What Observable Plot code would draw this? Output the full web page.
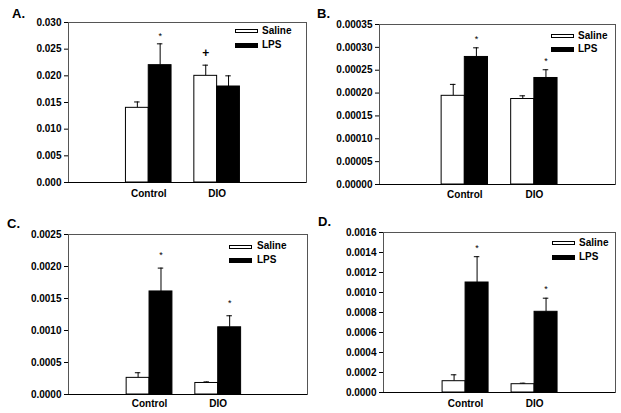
<!DOCTYPE html>
<html>
<head>
<meta charset="utf-8">
<script src="https://cdn.jsdelivr.net/npm/d3@7"></script>
<script src="https://cdn.jsdelivr.net/npm/@observablehq/plot@0.6"></script>
<style>
  html, body { margin: 0; padding: 0; background: #fff; }
  #root { position: relative; width: 621px; height: 413px; background: #fff; font-family: "Liberation Sans", Arial, sans-serif; }
  .panel { position: absolute; }
  .panel svg { position: absolute; left: 0; top: 0; }
  .plabel { position: absolute; font-weight: bold; font-size: 13px; line-height: 13px; }
  .ltext { position: absolute; font-weight: bold; font-size: 10px; line-height: 10px; }
  .lbox { position: absolute; box-sizing: border-box; border: 1px solid #000; }
</style>
</head>
<body>
<div id="root"></div>
<script>
// ---- data ----
const groups = ["Control", "DIO"];
const treatments = ["Saline", "LPS"];

// Panel A
const aSaline = [0.0140, 0.0200];
const aSalineErr = [0.0011, 0.0020];
const aLPS = [0.0220, 0.0180];
const aLPSErr = [0.0040, 0.0020];
const aSalineMark = ["", "+"];
const aLPSMark = ["*", ""];
const aTicks = [0, 0.005, 0.010, 0.015, 0.020, 0.025, 0.030];

// Panel B
const bSaline = [0.000194, 0.000187];
const bSalineErr = [0.000025, 0.000007];
const bLPS = [0.000279, 0.000233];
const bLPSErr = [0.000020, 0.000018];
const bSalineMark = ["", ""];
const bLPSMark = ["*", "*"];
const bTicks = [0, 0.00005, 0.00010, 0.00015, 0.00020, 0.00025, 0.00030, 0.00035];

// Panel C
const cSaline = [0.00026, 0.00018];
const cSalineErr = [0.00008, 0.000017];
const cLPS = [0.00161, 0.00105];
const cLPSErr = [0.000365, 0.00018];
const cSalineMark = ["", ""];
const cLPSMark = ["*", "*"];
const cTicks = [0, 0.0005, 0.0010, 0.0015, 0.0020, 0.0025];

// Panel D
const dSaline = [0.000113, 0.000083];
const dSalineErr = [0.000064, 0.000010];
const dLPS = [0.00110, 0.000807];
const dLPSErr = [0.000258, 0.000136];
const dSalineMark = ["", ""];
const dLPSMark = ["*", "*"];
const dTicks = [0, 0.0002, 0.0004, 0.0006, 0.0008, 0.0010, 0.0012, 0.0014, 0.0016];

// ---- layout ----
const GROUP_STEP = 3; // in bar widths

const panels = [
  { id: "A.", left: 0, top: 0, width: 310, height: 200,
    margin: { l: 68, r: 4, t: 22, b: 18 }, xDomain: [-3.52, 6.92],
    yMax: 0.030, ticks: aTicks, fmt: ".3f", xPad: 7, starDy: -7.5, plusDy: -12.5,
    saline: aSaline, salineErr: aSalineErr, lps: aLPS, lpsErr: aLPSErr, salineMark: aSalineMark, lpsMark: aLPSMark,
    label: { x: 12, y: 7 },
    legend: { boxX: 235, boxW: 23, salineTop: 29, lpsTop: 43, textX: 262, salineText: 26, lpsText: 40 } },
  { id: "B.", left: 310, top: 0, width: 311, height: 200,
    margin: { l: 69, r: 6, t: 24, b: 16 }, xDomain: [-3.68, 6.50],
    yMax: 0.00035, ticks: bTicks, fmt: ".5f", xPad: 6, starDy: -8.5, plusDy: -12,
    saline: bSaline, salineErr: bSalineErr, lps: bLPS, lpsErr: bLPSErr, salineMark: bSalineMark, lpsMark: bLPSMark,
    label: { x: 7, y: 7 },
    legend: { boxX: 241, boxW: 23, salineTop: 34, lpsTop: 47, textX: 268, salineText: 31, lpsText: 44 } },
  { id: "C.", left: 0, top: 200, width: 310, height: 213,
    margin: { l: 68, r: 3, t: 34, b: 19 }, xDomain: [-3.54, 6.90],
    yMax: 0.0025, ticks: cTicks, fmt: ".4f", xPad: 5.5, starDy: -12.5, plusDy: -12,
    saline: cSaline, salineErr: cSalineErr, lps: cLPS, lpsErr: cLPSErr, salineMark: cSalineMark, lpsMark: cLPSMark,
    label: { x: 7, y: 17 },
    legend: { boxX: 229, boxW: 23, salineTop: 44.5, lpsTop: 57.5, textX: 257, salineText: 41, lpsText: 54.5 } },
  { id: "D.", left: 310, top: 200, width: 311, height: 213,
    margin: { l: 73, r: 6, t: 32, b: 21 }, xDomain: [-3.57, 6.52],
    yMax: 0.0016, ticks: dTicks, fmt: ".4f", xPad: 7.5, starDy: -9, plusDy: -12,
    saline: dSaline, salineErr: dSalineErr, lps: dLPS, lpsErr: dLPSErr, salineMark: dSalineMark, lpsMark: dLPSMark,
    label: { x: 8, y: 15 },
    legend: { boxX: 242, boxW: 23, salineTop: 41, lpsTop: 55, textX: 269, salineText: 38, lpsText: 52 } }
];

const root = document.getElementById("root");

for (const p of panels) {
  const rows = [];
  groups.forEach((g, i) => {
    treatments.forEach((t, j) => {
      const isLPS = t === "LPS";
      rows.push({
        group: g, treatment: t,
        value: isLPS ? p.lps[i] : p.saline[i],
        err: isLPS ? p.lpsErr[i] : p.salineErr[i],
        mark: isLPS ? p.lpsMark[i] : p.salineMark[i],
        c: i * GROUP_STEP + (j - 0.5)
      });
    });
  });
  const top = d => d.value + d.err;

  const chart = Plot.plot({
    width: p.width, height: p.height,
    marginLeft: p.margin.l, marginRight: p.margin.r, marginTop: p.margin.t, marginBottom: p.margin.b,
    style: { fontFamily: "'Liberation Sans', Arial, sans-serif", fontSize: "10px", fontWeight: "bold", background: "transparent", color: "#000", overflow: "visible" },
    x: { domain: p.xDomain, axis: null },
    y: { domain: [0, p.yMax], axis: null },
    marks: [
      Plot.frame({ stroke: "#555", strokeWidth: 1 }),
      Plot.ruleX(rows, { x: "c", y1: "value", y2: top, stroke: "#000", strokeWidth: 1 }),
      Plot.ruleY(rows, { y: top, x1: d => d.c - 0.12, x2: d => d.c + 0.12, stroke: "#000", strokeWidth: 1 }),
      Plot.rect(rows.filter(d => d.treatment === "Saline"), { x1: d => d.c - 0.5, x2: d => d.c + 0.5, y1: 0, y2: "value", fill: "#fff", stroke: "#000", strokeWidth: 1 }),
      Plot.rect(rows.filter(d => d.treatment === "LPS"), { x1: d => d.c - 0.5, x2: d => d.c + 0.5, y1: 0, y2: "value", fill: "#000", stroke: "#000", strokeWidth: 1 }),
      Plot.text(rows.filter(d => d.mark === "*"), { x: "c", y: top, text: "mark", dy: p.starDy, fontSize: 9, fontWeight: "normal", fill: "#000" }),
      Plot.text(rows.filter(d => d.mark === "+"), { x: "c", y: top, text: "mark", dy: p.plusDy, fontSize: 12, fontWeight: "bold", fill: "#000" }),
      Plot.ruleY([0], { stroke: "#000", strokeWidth: 1 }),
      Plot.axisY({ ticks: p.ticks, tickFormat: d3.format(p.fmt), tickSize: 4, tickPadding: 3, line: true, stroke: "#000", label: null }),
      Plot.axisX({ ticks: groups.map((g, i) => i * GROUP_STEP), tickFormat: v => groups[Math.round(v / GROUP_STEP)], tickSize: 0, tickPadding: p.xPad, label: null })
    ]
  });

  const div = document.createElement("div");
  div.className = "panel";
  div.style.left = p.left + "px";
  div.style.top = p.top + "px";
  div.style.width = p.width + "px";
  div.style.height = p.height + "px";
  div.appendChild(chart);

  const lab = document.createElement("div");
  lab.className = "plabel";
  lab.textContent = p.id;
  lab.style.left = p.label.x + "px";
  lab.style.top = p.label.y + "px";
  div.appendChild(lab);

  const L = p.legend;
  const b1 = document.createElement("div");
  b1.className = "lbox";
  Object.assign(b1.style, { left: L.boxX + "px", top: L.salineTop + "px", width: L.boxW + "px", height: "4px", background: "#fff" });
  const b2 = document.createElement("div");
  b2.className = "lbox";
  Object.assign(b2.style, { left: L.boxX + "px", top: L.lpsTop + "px", width: L.boxW + "px", height: "5px", background: "#000" });
  const t1 = document.createElement("div");
  t1.className = "ltext"; t1.textContent = treatments[0];
  Object.assign(t1.style, { left: L.textX + "px", top: L.salineText + "px" });
  const t2 = document.createElement("div");
  t2.className = "ltext"; t2.textContent = treatments[1];
  Object.assign(t2.style, { left: L.textX + "px", top: L.lpsText + "px" });
  div.append(b1, b2, t1, t2);

  root.appendChild(div);
}
</script>
</body>
</html>
